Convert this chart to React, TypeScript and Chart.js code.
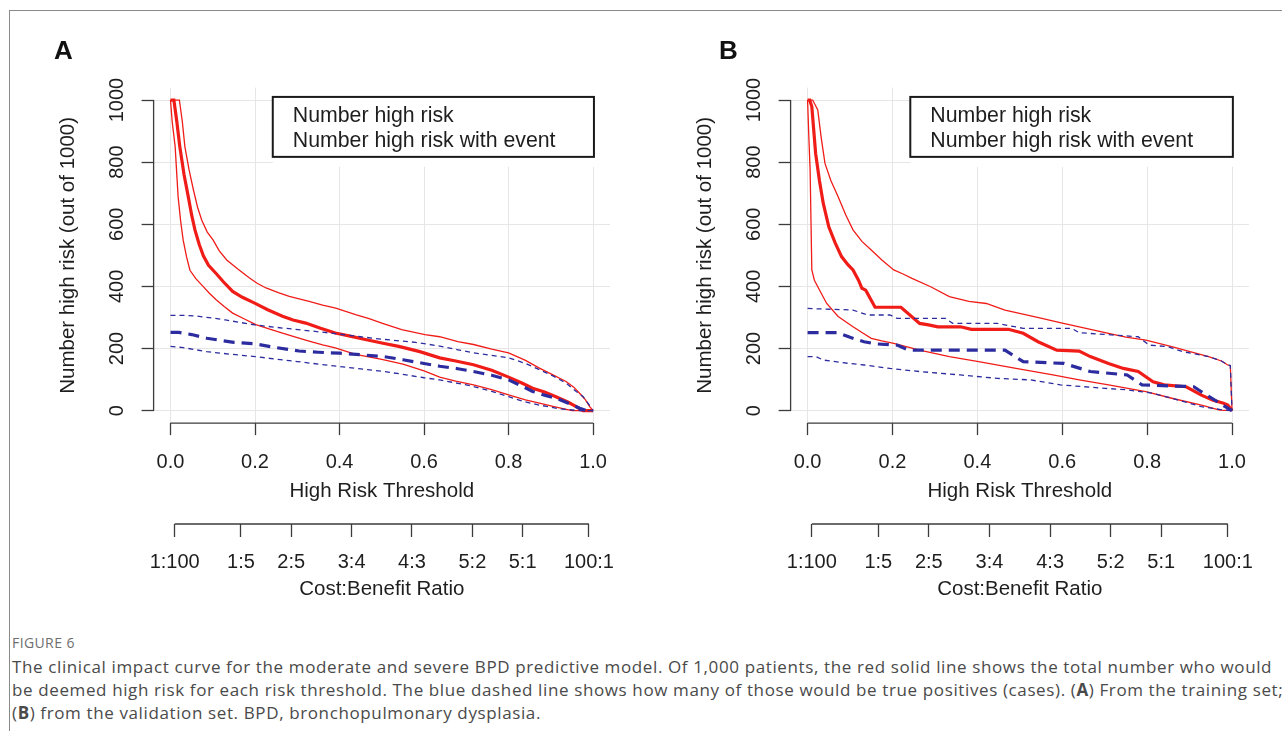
import React, { useEffect, useRef } from "react";
import { Chart, registerables } from "chart.js";

Chart.register(...registerables);

type Pt = [number, number];

// ---------- axis ticks ----------
const thresholdTicks = [0, 0.2, 0.4, 0.6, 0.8, 1.0];
const countTicks = [0, 200, 400, 600, 800, 1000];
const costBenefitLabels = ["1:100", "1:5", "2:5", "3:4", "4:3", "5:2", "5:1", "100:1"];
const costBenefitPositions = [0.0099, 0.1667, 0.2857, 0.4286, 0.5714, 0.7143, 0.8333, 0.9901];
const legendLabels = ["Number high risk", "Number high risk with event"];

// ---------- panel A (training set) ----------
const aRisk: Pt[] = [
  [0, 1000], [0.008, 1000], [0.015, 930], [0.022, 850], [0.032, 760], [0.042, 689], [0.05, 630],
  [0.058, 581], [0.068, 535], [0.078, 498], [0.09, 468], [0.109, 440], [0.125, 415], [0.147, 384],
  [0.17, 365], [0.198, 347], [0.23, 325], [0.265, 304], [0.29, 292], [0.32, 282], [0.355, 265],
  [0.39, 250], [0.425, 240], [0.461, 229], [0.5, 218], [0.54, 207], [0.59, 190], [0.637, 170],
  [0.675, 160], [0.717, 148], [0.76, 130], [0.8, 108], [0.83, 90], [0.857, 72], [0.885, 60],
  [0.912, 45], [0.94, 28], [0.96, 13], [0.976, 0], [1, 0],
];
const aRiskUpper: Pt[] = [
  [0, 1000], [0.021, 1000], [0.028, 930], [0.034, 850], [0.044, 775], [0.054, 712], [0.064, 655],
  [0.074, 613], [0.087, 575], [0.101, 549], [0.115, 515], [0.133, 485], [0.16, 455], [0.187, 427],
  [0.205, 410], [0.226, 395], [0.255, 380], [0.281, 368], [0.328, 352], [0.36, 340], [0.391, 330],
  [0.438, 309], [0.47, 296], [0.5, 282], [0.547, 261], [0.602, 245], [0.637, 238], [0.68, 222],
  [0.717, 213], [0.76, 198], [0.8, 186], [0.84, 162], [0.873, 137], [0.905, 115], [0.936, 94],
  [0.955, 75], [0.968, 56], [0.982, 35], [0.992, 13], [1, 0],
];
const aRiskLower: Pt[] = [
  [0, 1000], [0.004, 930], [0.011, 850], [0.018, 689], [0.024, 610], [0.03, 549], [0.038, 495],
  [0.046, 452], [0.06, 425], [0.077, 400], [0.092, 378], [0.108, 357], [0.127, 335], [0.147, 314],
  [0.175, 295], [0.202, 277], [0.233, 263], [0.265, 250], [0.296, 237], [0.328, 224], [0.36, 212],
  [0.39, 202], [0.438, 181], [0.5, 165], [0.55, 150], [0.6, 128], [0.637, 108], [0.675, 95],
  [0.717, 83], [0.76, 68], [0.8, 51], [0.84, 35], [0.873, 24], [0.91, 12], [0.95, 0], [1, 0],
];
const aEvent: Pt[] = [
  [0, 252], [0.02, 252], [0.05, 245], [0.086, 233], [0.12, 226], [0.15, 220], [0.2, 215],
  [0.25, 203], [0.304, 192], [0.35, 188], [0.4, 185], [0.45, 180], [0.505, 174], [0.55, 164],
  [0.6, 152], [0.637, 143], [0.68, 135], [0.717, 126], [0.76, 114], [0.8, 99], [0.83, 80],
  [0.857, 62], [0.885, 50], [0.912, 40], [0.94, 25], [0.968, 8], [0.984, 0], [1, 0],
];
const aEventUpper: Pt[] = [
  [0, 307], [0.03, 307], [0.06, 305], [0.1, 298], [0.13, 292], [0.165, 284], [0.2, 276],
  [0.265, 266], [0.33, 257], [0.39, 248], [0.45, 238], [0.5, 230], [0.58, 220], [0.637, 208],
  [0.68, 196], [0.717, 186], [0.76, 178], [0.8, 170], [0.84, 152], [0.873, 132], [0.905, 112],
  [0.936, 89], [0.96, 62], [0.976, 46], [0.99, 20], [1, 0],
];
const aEventLower: Pt[] = [
  [0, 207], [0.03, 203], [0.086, 190], [0.14, 182], [0.2, 174], [0.3, 158], [0.4, 142],
  [0.505, 126], [0.55, 117], [0.6, 106], [0.637, 99], [0.68, 88], [0.717, 78], [0.76, 62],
  [0.8, 45], [0.84, 28], [0.873, 18], [0.92, 6], [0.968, 0], [1, 0],
];

// ---------- panel B (validation set) ----------
const bRisk: Pt[] = [
  [0, 1000], [0.005, 1000], [0.01, 979], [0.019, 828], [0.028, 740], [0.037, 667], [0.05, 592],
  [0.065, 540], [0.08, 496], [0.095, 470], [0.107, 453], [0.12, 420], [0.128, 394], [0.137, 388],
  [0.159, 333], [0.22, 333], [0.264, 281], [0.285, 276], [0.307, 270], [0.36, 270], [0.386, 262],
  [0.473, 262], [0.508, 249], [0.543, 222], [0.587, 195], [0.64, 192], [0.666, 174], [0.709, 152],
  [0.744, 136], [0.779, 126], [0.814, 93], [0.84, 83], [0.892, 77], [0.928, 50], [0.954, 34],
  [0.98, 24], [0.99, 18], [1, 0],
];
const bRiskUpper: Pt[] = [
  [0, 1000], [0.012, 1000], [0.024, 968], [0.032, 880], [0.041, 796], [0.055, 740], [0.072, 689],
  [0.09, 630], [0.107, 582], [0.128, 545], [0.15, 517], [0.175, 485], [0.203, 453], [0.225, 440],
  [0.246, 426], [0.29, 399], [0.334, 367], [0.38, 352], [0.421, 345], [0.465, 324], [0.51, 310],
  [0.552, 297], [0.6, 282], [0.64, 270], [0.709, 249], [0.75, 237], [0.797, 227], [0.858, 206],
  [0.901, 190], [0.945, 174], [0.975, 160], [0.99, 147], [0.996, 145], [1, 0],
];
const bRiskLower: Pt[] = [
  [0, 1000], [0.003, 880], [0.006, 775], [0.01, 453], [0.016, 420], [0.024, 399], [0.045, 345],
  [0.072, 303], [0.107, 270], [0.13, 250], [0.15, 233], [0.175, 225], [0.203, 217], [0.264, 195],
  [0.334, 174], [0.403, 158], [0.491, 136], [0.578, 115], [0.64, 99], [0.709, 83], [0.797, 61],
  [0.858, 40], [0.928, 18], [0.971, 2], [1, 0],
];
const bEvent: Pt[] = [
  [0, 251], [0.072, 251], [0.1, 236], [0.133, 222], [0.16, 215], [0.211, 211], [0.238, 195],
  [0.465, 195], [0.508, 158], [0.604, 152], [0.666, 126], [0.753, 115], [0.788, 83], [0.91, 77],
  [0.928, 61], [0.971, 24], [1, 0],
];
const bEventUpper: Pt[] = [
  [0, 329], [0.107, 324], [0.141, 308], [0.194, 308], [0.211, 297], [0.325, 297], [0.342, 281],
  [0.447, 281], [0.508, 265], [0.622, 265], [0.64, 251], [0.779, 238], [0.805, 211], [0.849, 206],
  [0.884, 190], [0.945, 174], [0.975, 160], [0.99, 147], [0.996, 145], [1, 0],
];
const bEventLower: Pt[] = [
  [0, 174], [0.02, 174], [0.037, 163], [0.098, 152], [0.133, 147], [0.194, 136], [0.264, 126],
  [0.36, 115], [0.447, 104], [0.526, 99], [0.596, 83], [0.7, 72], [0.753, 67], [0.814, 56],
  [0.858, 40], [0.928, 13], [0.971, 4], [1, 0],
];

// ---------- styles ----------
const FONT = "'Liberation Sans', Arial, Helvetica, sans-serif";
const CAPTION_FONT = "'Open Sans', sans-serif";
const RED = "rgb(240, 28, 24)";
const BLUE = "rgb(44, 44, 160)";
const GRID = "#e6e6e6";
const AXIS = "#3c3c3c";
const TEXT = "#1e1e1e";

const LEGEND_X0 = 0.242;
const LEGEND_X1 = 1.002;
const LEGEND_Y0 = 1010;
const LEGEND_Y1 = 817;
const LEGEND_CLEAR_Y = 785;

interface SeriesSet {
  risk: Pt[]; riskUp: Pt[]; riskLo: Pt[];
  ev: Pt[]; evUp: Pt[]; evLo: Pt[];
}

const bracketPlugin = {
  id: "bracketAxes",
  afterDatasetsDraw(chart: any) {
    const { ctx, chartArea, scales } = chart;
    const x = scales.x, y = scales.y, cb = scales.cb;
    ctx.save();
    ctx.strokeStyle = AXIS;
    ctx.lineWidth = 1.3;
    ctx.beginPath();
    ctx.moveTo(chartArea.left, y.getPixelForValue(countTicks[0]));
    ctx.lineTo(chartArea.left, y.getPixelForValue(countTicks[countTicks.length - 1]));
    ctx.moveTo(x.getPixelForValue(thresholdTicks[0]), x.top);
    ctx.lineTo(x.getPixelForValue(thresholdTicks[thresholdTicks.length - 1]), x.top);
    ctx.moveTo(cb.getPixelForValue(costBenefitPositions[0]), cb.top);
    ctx.lineTo(cb.getPixelForValue(costBenefitPositions[costBenefitPositions.length - 1]), cb.top);
    ctx.stroke();
    ctx.restore();
  },
};

const legendPlugin = {
  id: "impactLegend",
  beforeDatasetsDraw(chart: any) {
    const { ctx, chartArea, scales } = chart;
    const x = scales.x, y = scales.y;
    const bx0 = x.getPixelForValue(LEGEND_X0);
    const bx1 = x.getPixelForValue(LEGEND_X1);
    const by0 = y.getPixelForValue(LEGEND_Y0);
    const by1 = y.getPixelForValue(LEGEND_Y1);
    ctx.save();
    ctx.fillStyle = "#ffffff";
    ctx.fillRect(bx0, chartArea.top, chartArea.right - bx0 + 1, y.getPixelForValue(LEGEND_CLEAR_Y) - chartArea.top);
    ctx.strokeStyle = "#1a1a1a";
    ctx.lineWidth = 2;
    ctx.strokeRect(bx0, by0, bx1 - bx0, by1 - by0);
    ctx.fillStyle = TEXT;
    ctx.font = `21.3px ${FONT}`;
    ctx.textBaseline = "alphabetic";
    ctx.textAlign = "left";
    ctx.fillText(legendLabels[0], bx0 + 20, by0 + 24.7);
    ctx.fillText(legendLabels[1], bx0 + 20, by0 + 50.3);
    ctx.restore();
  },
};

function makeConfig(s: SeriesSet, padRight: number): any {
  const xy = (a: Pt[]) => a.map(([px, py]) => ({ x: px, y: py }));
  const tickFont = { family: FONT, size: 20 };
  const titleFont = { family: FONT, size: 20.5 };
  return {
    type: "line",
    data: {
      datasets: [
        { data: xy(s.ev), borderColor: BLUE, borderWidth: 3.2, borderDash: [11, 7] },
        { data: xy(s.evUp), borderColor: BLUE, borderWidth: 1.3, borderDash: [5, 4] },
        { data: xy(s.evLo), borderColor: BLUE, borderWidth: 1.3, borderDash: [5, 4] },
        { data: xy(s.risk), borderColor: RED, borderWidth: 3.2 },
        { data: xy(s.riskUp), borderColor: RED, borderWidth: 1.3 },
        { data: xy(s.riskLo), borderColor: RED, borderWidth: 1.3 },
      ],
    },
    options: {
      responsive: false,
      animation: false,
      events: [],
      layout: { padding: { top: 87.6, left: 33.6, right: padRight, bottom: 18 } },
      elements: { point: { radius: 0 }, line: { tension: 0, fill: false } },
      plugins: { legend: { display: false }, tooltip: { enabled: false } },
      scales: {
        x: {
          type: "linear", position: "bottom", min: -0.04, max: 1.04, weight: 0,
          afterBuildTicks: (sc: any) => { sc.ticks = thresholdTicks.map((v) => ({ value: v })); },
          afterFit: (sc: any) => { sc.height = 100.9; },
          grid: { color: GRID, lineWidth: 1, tickColor: AXIS, tickLength: 12, tickWidth: 1.3 },
          border: { display: false },
          ticks: {
            padding: 15.4, color: TEXT, font: tickFont, autoSkip: false, maxRotation: 0,
            callback: (v: any) => Number(v).toFixed(1),
          },
          title: {
            display: true, text: "High Risk Threshold", color: TEXT, font: titleFont,
            padding: { top: 0, bottom: 20 },
          },
        },
        cb: {
          type: "linear", position: "bottom", min: -0.04, max: 1.04, weight: 1,
          afterBuildTicks: (sc: any) => { sc.ticks = costBenefitPositions.map((v) => ({ value: v })); },
          afterFit: (sc: any) => { sc.height = 78; },
          grid: { drawOnChartArea: false, tickColor: AXIS, tickLength: 13, tickWidth: 1.3 },
          border: { display: false },
          ticks: {
            padding: 13.5, color: TEXT, font: tickFont, autoSkip: false, maxRotation: 0,
            callback: (_v: any, i: number) => costBenefitLabels[i],
          },
          title: {
            display: true, text: "Cost:Benefit Ratio", color: TEXT, font: titleFont,
            padding: 0,
          },
        },
        y: {
          type: "linear", position: "left", min: -40, max: 1040,
          afterBuildTicks: (sc: any) => { sc.ticks = countTicks.map((v) => ({ value: v })); },
          afterFit: (sc: any) => { sc.width = 120; },
          grid: { color: GRID, lineWidth: 1, tickColor: AXIS, tickLength: 12, tickWidth: 1.3 },
          border: { display: false },
          ticks: {
            padding: 1.9, color: TEXT, font: tickFont, minRotation: 90, maxRotation: 90,
            crossAlign: "center", autoSkip: false, callback: (v: any) => String(v),
          },
          title: {
            display: true, text: "Number high risk (out of 1000)", color: TEXT,
            font: titleFont, padding: { top: 22.4, bottom: 0 },
          },
        },
      },
    },
    plugins: [legendPlugin, bracketPlugin],
  };
}

function Panel({ series, left, padRight }: { series: SeriesSet; left: number; padRight: number }) {
  const ref = useRef<HTMLCanvasElement | null>(null);
  useEffect(() => {
    if (!ref.current) return;
    const chart = new Chart(ref.current, makeConfig(series, padRight));
    return () => chart.destroy();
  }, [series, padRight]);
  return (
    <canvas
      ref={ref}
      width={640}
      height={620}
      style={{ position: "absolute", left, top: 0, width: 640, height: 620 }}
    />
  );
}

const seriesA: SeriesSet = { risk: aRisk, riskUp: aRiskUpper, riskLo: aRiskLower, ev: aEvent, evUp: aEventUpper, evLo: aEventLower };
const seriesB: SeriesSet = { risk: bRisk, riskUp: bRiskUpper, riskLo: bRiskLower, ev: bEvent, evUp: bEventUpper, evLo: bEventLower };

export default function App() {
  const letterStyle: React.CSSProperties = {
    position: "absolute", top: 36.6, fontFamily: FONT, fontWeight: "bold", fontSize: 26,
    lineHeight: "26px", color: "#111",
  };
  const capLine: React.CSSProperties = {
    whiteSpace: "nowrap", height: 23.3, lineHeight: "23.3px",
  };
  return (
    <div style={{ position: "absolute", left: 0, top: 0, width: 1282, height: 731, background: "#fff", overflow: "hidden" }}>
      <div style={{ position: "absolute", left: 9, top: 10, width: 1280, height: 730, borderTop: "1px solid #8a8a8a", borderLeft: "1px solid #8a8a8a" }} />
      <Panel series={seriesA} left={0} padRight={30} />
      <Panel series={seriesB} left={637} padRight={28} />
      <div style={{ ...letterStyle, left: 54 }}>A</div>
      <div style={{ ...letterStyle, left: 719 }}>B</div>
      <div style={{ position: "absolute", left: 12, top: 633, fontFamily: CAPTION_FONT, fontSize: 14, lineHeight: "20px", color: "#6e6e6e", letterSpacing: 0.4 }}>
        FIGURE 6
      </div>
      <div style={{ position: "absolute", left: 12, top: 654.5, fontFamily: CAPTION_FONT, fontSize: 17, letterSpacing: 0.62, color: "#4a4a4a" }}>
        <div style={capLine}>
          The clinical impact curve for the moderate and severe BPD predictive model. Of 1,000 patients, the red solid line shows the total number who would
        </div>
        <div style={capLine}>
          be deemed high risk for each risk threshold. The blue dashed line shows how many of those would be true positives (cases). (<b>A</b>) From the training set;
        </div>
        <div style={capLine}>
          (<b>B</b>) from the validation set. BPD, bronchopulmonary dysplasia.
        </div>
      </div>
    </div>
  );
}
